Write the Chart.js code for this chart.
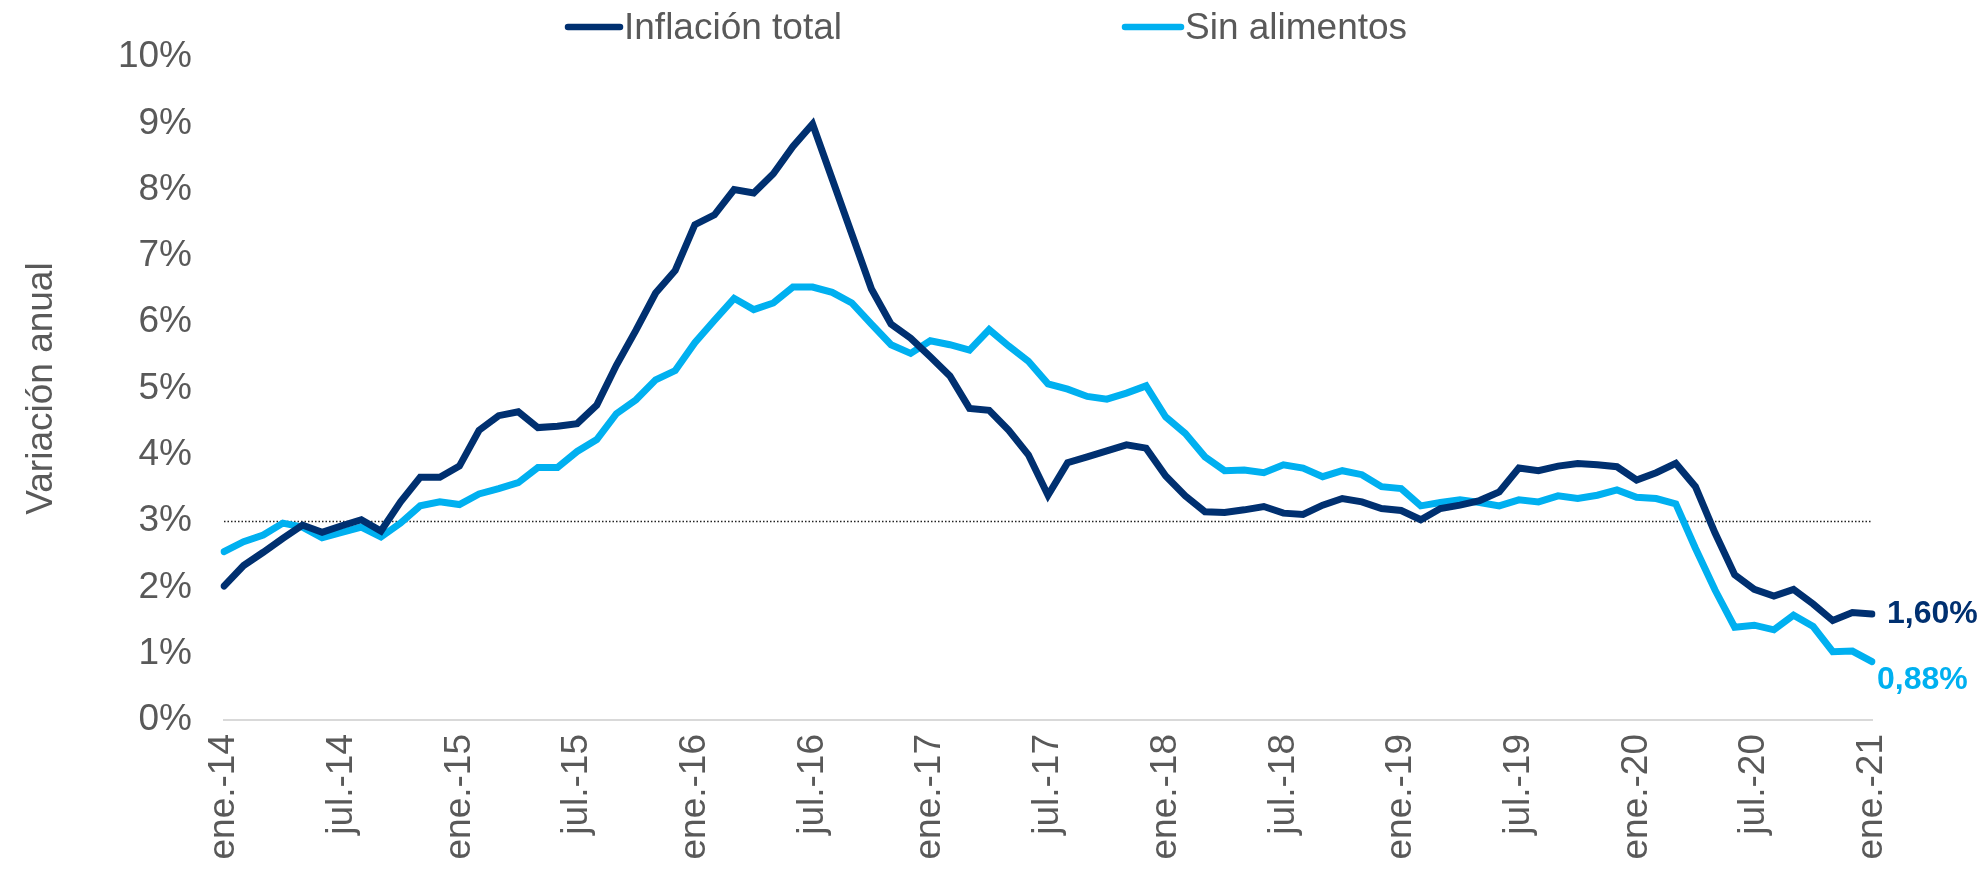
<!DOCTYPE html>
<html lang="es">
<head>
<meta charset="utf-8">
<title>Inflación total vs. sin alimentos</title>
<script src="https://cdn.jsdelivr.net/npm/chart.js@4.4.1/dist/chart.umd.min.js"></script>
<style>
  html, body { margin: 0; padding: 0; background: #fff; }
  #wrap { width: 1982px; height: 872px; }
</style>
</head>
<body>
<div id="wrap"><canvas id="chart" width="1982" height="872"></canvas></div>
<script>
// Meses (ene.-14 ... ene.-21), variación anual en %
const MESES = ['ene.', 'feb.', 'mar.', 'abr.', 'may.', 'jun.', 'jul.', 'ago.', 'sept.', 'oct.', 'nov.', 'dic.'];
const ANIOS = ['14', '15', '16', '17', '18', '19', '20', '21'];

const inflacionTotal = [
    2.02, 2.33, 2.53, 2.74, 2.94, 2.83, 2.93, 3.02, 2.85, 3.29, 3.66, 3.66,
    3.83, 4.37, 4.59, 4.65, 4.41, 4.43, 4.47, 4.75, 5.35, 5.88, 6.44, 6.78,
    7.47, 7.62, 8.00, 7.95, 8.24, 8.65, 8.99, 8.16, 7.33, 6.50, 5.97, 5.76,
    5.48, 5.19, 4.70, 4.67, 4.37, 4.00, 3.39, 3.88, 3.97, 4.06, 4.15, 4.10,
    3.68, 3.38, 3.14, 3.13, 3.17, 3.22, 3.12, 3.10, 3.24, 3.34, 3.29, 3.19,
    3.16, 3.02, 3.19, 3.24, 3.31, 3.44, 3.80, 3.76, 3.83, 3.87, 3.85, 3.82,
    3.62, 3.73, 3.87, 3.52, 2.82, 2.19, 1.97, 1.87, 1.97, 1.75, 1.50, 1.62,
    1.60,
];
const sinAlimentos = [
    2.54, 2.69, 2.79, 2.97, 2.91, 2.75, 2.83, 2.91, 2.76, 2.97, 3.23, 3.29,
    3.25, 3.41, 3.49, 3.58, 3.81, 3.81, 4.05, 4.23, 4.62, 4.83, 5.13, 5.27,
    5.69, 6.03, 6.36, 6.19, 6.29, 6.53, 6.53, 6.45, 6.29, 5.97, 5.66, 5.53,
    5.72, 5.66, 5.58, 5.89, 5.64, 5.41, 5.07, 4.99, 4.88, 4.84, 4.93, 5.04,
    4.57, 4.32, 3.97, 3.76, 3.77, 3.73, 3.85, 3.80, 3.67, 3.76, 3.70, 3.52,
    3.49, 3.23, 3.28, 3.32, 3.28, 3.23, 3.32, 3.29, 3.38, 3.34, 3.39, 3.47,
    3.36, 3.34, 3.26, 2.59, 1.96, 1.40, 1.43, 1.36, 1.58, 1.41, 1.03, 1.04,
    0.88,
];
const META = 3; // línea punteada de referencia
const yTicks = [0, 1, 2, 3, 4, 5, 6, 7, 8, 9, 10];

const labels = [];
ANIOS.forEach((a) => {
    MESES.forEach((m) => {
        if (labels.length < inflacionTotal.length) labels.push(`${m}-${a}`);
    });
});

const FONT = '"Liberation Sans", Arial, sans-serif';
const GRIS = '#595959';
const AZUL_OSCURO = '#003070';
const AZUL_CLARO = '#00B0F0';

// línea de meta (3%), punteada, bajo las series
const metaLine = {
    id: 'metaLine',
    beforeDatasetsDraw(chart) {
        const { ctx, scales: { y } } = chart;
        const meta = chart.getDatasetMeta(0);
        const x0 = meta.data[0].x;
        const x1 = meta.data[meta.data.length - 1].x;
        const yy = Math.round(y.getPixelForValue(META)) + 0.5;
        ctx.save();
        ctx.strokeStyle = '#222';
        ctx.lineWidth = 1.5;
        ctx.setLineDash([1.5, 2]);
        ctx.beginPath();
        ctx.moveTo(x0, yy);
        ctx.lineTo(x1, yy);
        ctx.stroke();
        ctx.restore();
    },
};

// etiqueta del último valor de cada serie
const endLabels = {
    id: 'endLabels',
    afterDatasetsDraw(chart) {
        const { ctx } = chart;
        const offs = [{ dx: 15, dy: 0 }, { dx: 5, dy: 19 }];
        ctx.save();
        ctx.font = `bold 32px ${FONT}`;
        ctx.textAlign = 'left';
        ctx.textBaseline = 'middle';
        chart.data.datasets.forEach((ds, i) => {
            const pts = chart.getDatasetMeta(i).data;
            const p = pts[pts.length - 1];
            const v = ds.data[ds.data.length - 1];
            ctx.fillStyle = ds.borderColor;
            ctx.fillText(v.toFixed(2).replace('.', ',') + '%', p.x + offs[i].dx, p.y + offs[i].dy);
        });
        ctx.restore();
    },
};

// leyenda arriba, una línea corta y el nombre
const topLegend = {
    id: 'topLegend',
    afterDraw(chart) {
        const { ctx } = chart;
        const items = [{ x: 568, w: 52 }, { x: 1125, w: 56 }];
        ctx.save();
        ctx.font = `37px ${FONT}`;
        ctx.textBaseline = 'middle';
        ctx.lineCap = 'round';
        chart.data.datasets.forEach((ds, i) => {
            const it = items[i];
            ctx.strokeStyle = ds.borderColor;
            ctx.lineWidth = 6.5;
            ctx.beginPath();
            ctx.moveTo(it.x, 27);
            ctx.lineTo(it.x + it.w, 27);
            ctx.stroke();
            ctx.fillStyle = GRIS;
            ctx.fillText(ds.label, it.x + it.w + 4, 29);
        });
        ctx.restore();
    },
};

new Chart(document.getElementById('chart'), {
    type: 'line',
    data: {
        labels,
        datasets: [
            {
                label: 'Inflación total',
                data: inflacionTotal,
                borderColor: AZUL_OSCURO,
                backgroundColor: AZUL_OSCURO,
                borderWidth: 7,
            },
            {
                label: 'Sin alimentos',
                data: sinAlimentos,
                borderColor: AZUL_CLARO,
                backgroundColor: AZUL_CLARO,
                borderWidth: 7,
            },
        ],
    },
    options: {
        responsive: false,
        animation: false,
        layout: { padding: { top: 57, right: 110, bottom: 0, left: 0 } },
        elements: {
            line: { tension: 0, borderCapStyle: 'round', borderJoinStyle: 'miter' },
            point: { radius: 0, hoverRadius: 0 },
        },
        plugins: {
            legend: { display: false },
            tooltip: { enabled: false },
        },
        scales: {
            x: {
                offset: false,
                grid: { display: false, drawTicks: false },
                border: { display: true, color: '#d9d9d9', width: 2 },
                ticks: {
                    autoSkip: false,
                    maxRotation: 90,
                    minRotation: 90,
                    padding: 14,
                    color: GRIS,
                    font: { family: FONT, size: 37 },
                    callback: (v, i) => (i % 6 === 0 ? labels[i] : ''),
                },
                afterFit: (s) => { s.height = 152; },
            },
            y: {
                min: 0,
                max: 10,
                afterBuildTicks: (s) => { s.ticks = yTicks.map((v) => ({ value: v })); },
                grid: { display: false, drawTicks: false },
                border: { display: false },
                ticks: {
                    padding: 32,
                    color: GRIS,
                    font: { family: FONT, size: 37 },
                    callback: (v) => `${v}%`,
                },
                title: {
                    display: true,
                    text: 'Variación anual',
                    color: GRIS,
                    font: { family: FONT, size: 37 },
                    padding: { top: 20, bottom: 0 },
                },
                afterFit: (s) => { s.width = 224; },
            },
        },
    },
    plugins: [metaLine, endLabels, topLegend],
});
</script>
</body>
</html>
